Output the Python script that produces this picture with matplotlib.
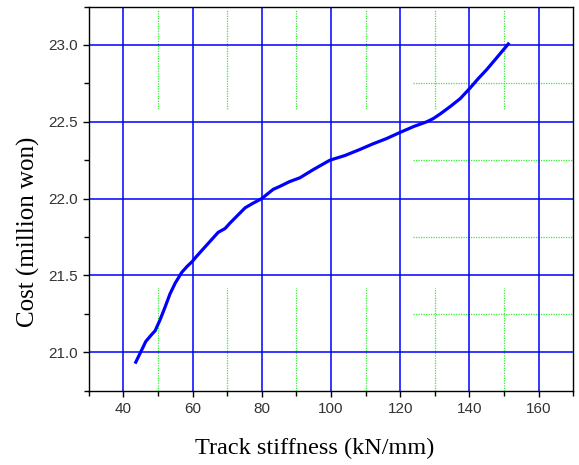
import matplotlib.pyplot as plt
import numpy as np
from matplotlib.ticker import MultipleLocator

# cost vs track stiffness
stiffness = [43.6, 45.0, 46.5, 48.0, 49.2, 50.6, 52.0, 53.5, 55.0, 56.9, 58.5, 59.9,
             61.2, 62.6, 65.0, 67.4, 69.4, 70.8, 73.0, 75.2, 77.5, 80.0, 83.3, 85.3,
             88.0, 91.0, 95.0, 99.7, 104.0, 108.4, 112.0, 116.0, 119.9, 124.0, 127.7,
             129.5, 131.5, 134.5, 137.3, 140.2, 142.5, 145.0, 148.0, 151.2]
cost = [20.935, 21.00, 21.07, 21.11, 21.14, 21.21, 21.29, 21.38, 21.45, 21.52, 21.56, 21.59,
        21.625, 21.66, 21.72, 21.78, 21.805, 21.84, 21.89, 21.94, 21.97, 22.00, 22.06, 22.08,
        22.11, 22.135, 22.19, 22.25, 22.28, 22.32, 22.355, 22.39, 22.43, 22.47, 22.50,
        22.52, 22.55, 22.60, 22.65, 22.72, 22.78, 22.84, 22.92, 23.006]

xmin, xmax = 30, 170
ymin, ymax = 20.75, 23.25

fig = plt.figure(figsize=(5.79, 4.65), dpi=100)
ax = fig.add_axes([0.1532, 0.160, 0.8370, 0.826])

# major grid
ax.xaxis.set_major_locator(MultipleLocator(20))
ax.yaxis.set_major_locator(MultipleLocator(0.5))
ax.xaxis.set_minor_locator(MultipleLocator(10))
ax.yaxis.set_minor_locator(MultipleLocator(0.25))
ax.grid(True, which='major', color='#0000ff', linewidth=1.1)

# the partly drawn minor grid (as in the original export)
green = '#33ee33'
minor_x = np.arange(50, 160, 20)
ax.vlines(minor_x, 22.58, 23.23, color=green, linestyle=(0, (1, 1)), linewidth=0.9, zorder=1)
ax.vlines(minor_x, ymin, 21.415, color=green, linestyle=(0, (1, 1)), linewidth=0.9, zorder=1)
minor_y = np.arange(21.25, 23.0, 0.5)
ax.hlines(minor_y, 123.6, xmax, color=green, linestyle=(0, (1, 1)), linewidth=0.9, zorder=1)

ax.plot(stiffness, cost, color='#0000ff', linewidth=2.3, zorder=3)

ax.set_xlim(xmin, xmax)
ax.set_ylim(ymin, ymax)
ax.set_xticks(np.arange(40, 161, 20))
ax.set_yticks(np.arange(21.0, 23.01, 0.5))
ax.set_yticklabels(['%.1f' % v for v in np.arange(21.0, 23.01, 0.5)])

ax.tick_params(which='major', direction='out', length=4, width=1, labelsize=11,
               labelcolor='#333333', pad=4)
ax.tick_params(which='minor', direction='out', length=3.5, width=1)
for lab in ax.get_xticklabels() + ax.get_yticklabels():
    lab.set_family('Liberation Sans')
for s in ax.spines.values():
    s.set_linewidth(1.0)

ax.set_xlabel('Track stiffness (kN/mm)', family='Liberation Serif', fontsize=17.5, labelpad=16)
ax.set_ylabel('Cost (million won)', family='Liberation Serif', fontsize=18, labelpad=6)
ax.xaxis.label.set_x(0.467)
ax.yaxis.label.set_y(0.413)

fig.savefig('out.png', dpi=100)
